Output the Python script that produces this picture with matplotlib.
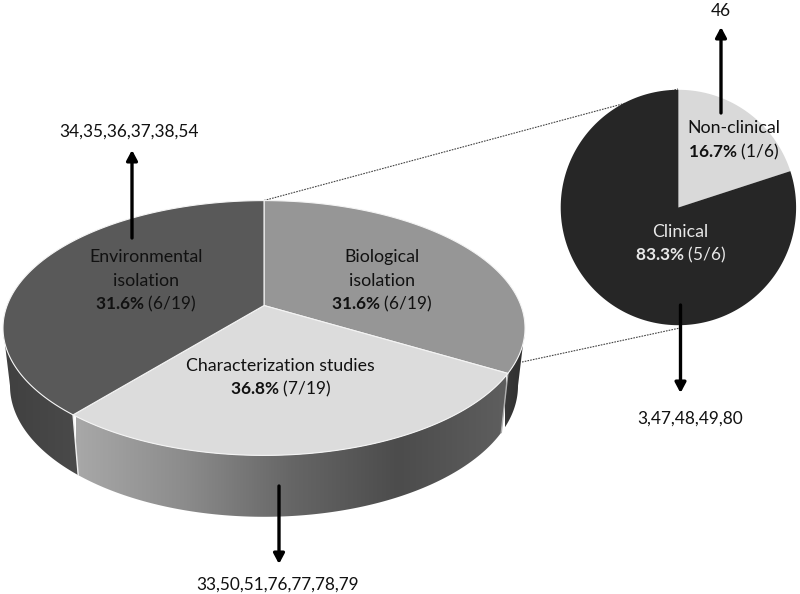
import numpy as np
from matplotlib import pyplot as plt
from matplotlib.colors import LinearSegmentedColormap
from matplotlib.patches import Polygon

plt.rcParams['font.family'] = ['Lato', 'DejaVu Sans']
plt.rcParams['mathtext.fontset'] = 'custom'
plt.rcParams['mathtext.bf'] = 'Lato:bold'
plt.rcParams['mathtext.rm'] = 'Lato'

# main pie, clockwise from 12 o'clock
main_counts = [6, 7, 6]
main_total = 19
main_percent = ['31.6', '36.8', '31.6']
main_names = [['Biological', 'isolation'], ['Characterization studies'],
              ['Environmental', 'isolation']]
main_refs = ['34,35,36,37,38,54', '33,50,51,76,77,78,79']

# zoomed pie
sub_counts = [1, 5]
sub_total = 6
sub_percent = ['16.7', '83.3']
sub_names = ['Non-clinical', 'Clinical']
sub_refs = ['46', '3,47,48,49,80']

FS = 12.4
FS_NAME = 12.8


def rim(cx, cy, rx, ry, a0, a1, n=120):
    # angles in degrees, clockwise from the top
    t = np.radians(np.linspace(a0, a1, n))
    return np.column_stack([cx + rx * np.sin(t), cy - ry * np.cos(t)])


def slice_edges(counts, total, view_shift):
    # the drawing is in perspective so the rim points sit a bit off the true share
    deg = np.cumsum([0] + counts) / total * 360
    return deg + np.array(view_shift)


def side(ax, a0, a1, stops, x0, x1):
    top = rim(264, 328, 261, 127.4, a0, a1)
    bot = rim(264, 385.8, 254, 131, a0, a1)
    clip = Polygon(np.vstack([top, bot[::-1]]), transform=ax.transData,
                   fc='none', ec='none')
    ax.add_patch(clip)
    cmap = LinearSegmentedColormap.from_list('side', stops)
    im = ax.imshow(np.linspace(0, 1, 256)[None, :], cmap=cmap, aspect='auto',
                   extent=(x0, x1, 530, 320), zorder=1)
    im.set_clip_path(clip)


def ref_arrow(ax, x, y0, y1):
    ax.annotate('', xy=(x, y1), xytext=(x, y0), zorder=6,
                arrowprops=dict(arrowstyle='-|>,head_width=0.32,head_length=0.6',
                                lw=2.4, color='black', shrinkA=0, shrinkB=0))


def label(ax, x, y, s, color='#111111', fs=FS):
    ax.text(x, y + 1, s, ha='center', va='center', fontsize=fs, color=color, zorder=7)


def share(pct, n, total):
    return r'$\mathbf{%s\%%}$ (%d/%d)' % (pct, n, total)


fig = plt.figure(figsize=(8, 5.94), dpi=100)
ax = fig.add_axes([0, 0, 1, 1])

edges = slice_edges(main_counts, main_total, [0, -2.8, -19.3, 0])

# dotted lines joining the two pies
ax.plot([264, 678], [200.5, 89], ls=(0, (1.5, 1)), lw=0.8, color='#444444', zorder=0.5)
ax.plot([522, 680], [362, 328], ls=(0, (1.5, 1)), lw=0.8, color='#444444', zorder=0.5)

# sides
side(ax, 90, edges[1], ['#383838', '#2e2e2e'], 505, 526)
side(ax, edges[1], edges[2], ['#a8a8a8', '#8c8c8c', '#666666', '#4c4c4c', '#5e5e5e'], 76, 506)
side(ax, edges[2], 270, ['#404040', '#4a4a4a'], 3, 78)

# white seams on the side wall
for a, col in [(edges[1], '#b0b0b0'), (edges[2], '#f0f0f0')]:
    p0 = rim(264, 328, 261, 127.4, a, a, 1)[0]
    p1 = rim(264, 385.8, 254, 131, a, a, 1)[0]
    ax.plot([p0[0], p1[0]], [p0[1], p1[1]], color=col, lw=1, zorder=2)

# top face
apex = (264, 305.5)
top_cols = ['#969696', '#dcdcdc', '#595959']
for i, col in enumerate(top_cols):
    arc = rim(264, 328, 261, 127.4, edges[i], edges[i + 1], 200)
    ax.add_patch(Polygon(np.vstack([[apex], arc]), fc=col, ec='#f4f4f4', lw=0.8, zorder=3))

# zoomed pie
sub_edges = slice_edges(sub_counts, sub_total, [0, 12, 0])
sub_cols = ['#d9d9d9', '#262626']
for i, col in enumerate(sub_cols):
    arc = rim(678.4, 207.5, 117.7, 117.7, sub_edges[i], sub_edges[i + 1], 200)
    ax.add_patch(Polygon(np.vstack([[(678.4, 207.5)], arc]), fc=col, ec='none', zorder=3))

# reference arrows
ref_arrow(ax, 132, 238, 150)
ref_arrow(ax, 279, 486, 564)
ref_arrow(ax, 680.5, 305, 393)
ref_arrow(ax, 721, 113, 27)

# labels on the main pie
label(ax, 382, 256, main_names[0][0], fs=FS_NAME)
label(ax, 382, 280, main_names[0][1], fs=FS_NAME)
label(ax, 381.5, 303, share(main_percent[0], main_counts[0], main_total))
label(ax, 280, 365, main_names[1][0], fs=FS_NAME)
label(ax, 280, 388, share(main_percent[1], main_counts[1], main_total))
label(ax, 146, 256, main_names[2][0], fs=FS_NAME)
label(ax, 146, 280, main_names[2][1], fs=FS_NAME)
label(ax, 145.5, 303, share(main_percent[2], main_counts[2], main_total))

# labels on the zoomed pie
label(ax, 734, 127, sub_names[0], fs=FS_NAME)
label(ax, 733, 151, share(sub_percent[0], sub_counts[0], sub_total))
label(ax, 680, 231, sub_names[1], color='#e8e8e8', fs=FS_NAME)
label(ax, 680, 254, share(sub_percent[1], sub_counts[1], sub_total), color='#e8e8e8')

# reference lists
label(ax, 129, 131, main_refs[0])
label(ax, 277.5, 584, main_refs[1])
label(ax, 721, 10, sub_refs[0])
label(ax, 690, 418, sub_refs[1])

ax.set_xlim(0, 800)
ax.set_ylim(594, 0)
ax.axis('off')

fig.savefig('out.png', dpi=100)
